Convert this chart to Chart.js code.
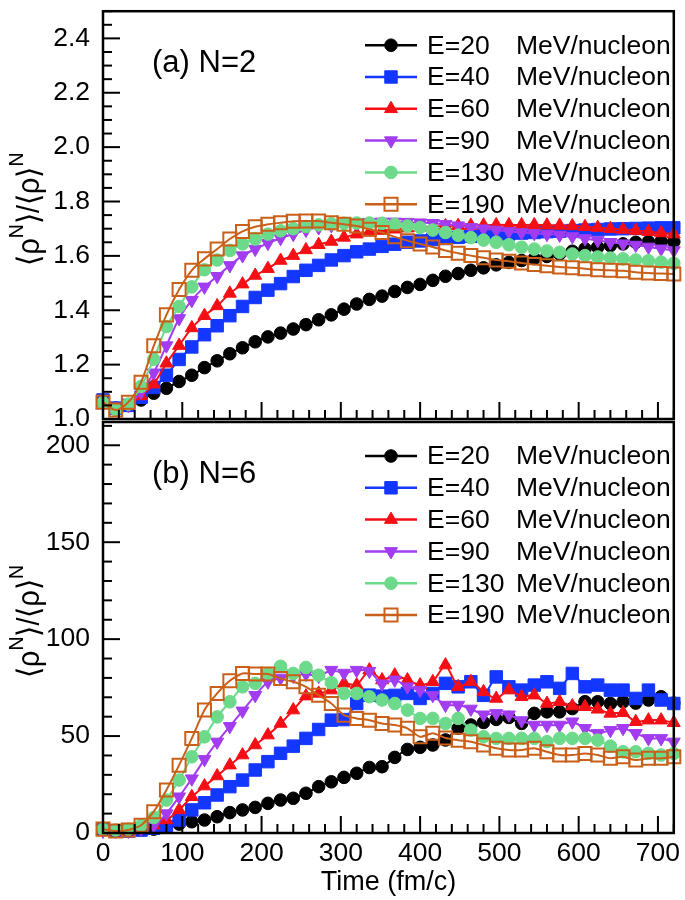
<!DOCTYPE html>
<html>
<head>
<meta charset="utf-8">
<script src="https://cdn.jsdelivr.net/npm/chart.js@4.4.0/dist/chart.umd.min.js"></script>
<style>
  body { margin: 0; background: #fff; }
  #wrap { position: relative; width: 685px; height: 900px; }
  #topChart { position: absolute; left: 0; top: 0; }
  #bottomChart { position: absolute; left: 0; top: 410px; }
</style>
</head>
<body>
<div id="wrap">
  <canvas id="bottomChart" width="685" height="490"></canvas>
  <canvas id="topChart" width="685" height="440"></canvas>
</div>
<script>
// time axis (fm/c)
const timeValues = [0, 16, 32, 48, 64, 80, 96, 112, 128, 144, 160, 176, 192, 208, 224, 240,
  256, 272, 288, 304, 320, 336, 352, 368, 384, 400, 416, 432, 448, 464, 480, 496, 512, 528,
  544, 560, 576, 592, 608, 624, 640, 656, 672, 688, 704, 720];

const energyLabels = ["E=20", "E=40", "E=60", "E=90", "E=130", "E=190"];
const unitLabel = "MeV/nucleon";

// (a) N=2
const n2E20 = [1.06, 1.04, 1.05, 1.07, 1.095, 1.113, 1.138, 1.161, 1.189, 1.214, 1.24, 1.262, 1.284, 1.302, 1.316, 1.331,
  1.347, 1.365, 1.383, 1.404, 1.423, 1.44, 1.452, 1.469, 1.484, 1.495, 1.51, 1.525, 1.535, 1.547, 1.556, 1.567, 1.576, 1.583,
  1.59, 1.598, 1.607, 1.617, 1.626, 1.632, 1.638, 1.644, 1.65, 1.652, 1.653, 1.652];
const n2E40 = [1.07, 1.04, 1.05, 1.08, 1.116, 1.161, 1.219, 1.265, 1.31, 1.343, 1.38, 1.414, 1.447, 1.474, 1.498, 1.524,
  1.547, 1.565, 1.585, 1.601, 1.615, 1.625, 1.635, 1.643, 1.65, 1.655, 1.66, 1.664, 1.668, 1.672, 1.675, 1.678, 1.681, 1.684,
  1.686, 1.689, 1.691, 1.693, 1.695, 1.697, 1.699, 1.7, 1.701, 1.702, 1.703, 1.703];
const n2E60 = [1.06, 1.035, 1.05, 1.085, 1.128, 1.205, 1.27, 1.335, 1.38, 1.416, 1.462, 1.496, 1.528, 1.553, 1.583, 1.601,
  1.622, 1.641, 1.653, 1.668, 1.68, 1.687, 1.693, 1.698, 1.702, 1.705, 1.708, 1.71, 1.711, 1.712, 1.713, 1.714, 1.714, 1.714,
  1.714, 1.713, 1.712, 1.71, 1.707, 1.704, 1.7, 1.697, 1.693, 1.689, 1.684, 1.68];
const n2E90 = [1.06, 1.035, 1.05, 1.1, 1.17, 1.27, 1.37, 1.437, 1.486, 1.525, 1.565, 1.601, 1.625, 1.647, 1.665, 1.68,
  1.695, 1.704, 1.712, 1.718, 1.722, 1.724, 1.725, 1.725, 1.724, 1.722, 1.72, 1.716, 1.711, 1.705, 1.7, 1.695, 1.69, 1.686,
  1.683, 1.68, 1.677, 1.671, 1.664, 1.657, 1.65, 1.645, 1.64, 1.633, 1.626, 1.62];
const n2E130 = [1.06, 1.035, 1.055, 1.12, 1.22, 1.34, 1.414, 1.486, 1.549, 1.585, 1.62, 1.644, 1.662, 1.68, 1.692, 1.7,
  1.708, 1.714, 1.718, 1.72, 1.721, 1.721, 1.72, 1.716, 1.71, 1.704, 1.695, 1.686, 1.676, 1.667, 1.658, 1.65, 1.641, 1.632,
  1.625, 1.618, 1.613, 1.607, 1.601, 1.596, 1.592, 1.589, 1.585, 1.582, 1.577, 1.573];
const n2E190 = [1.062, 1.033, 1.062, 1.135, 1.269, 1.383, 1.476, 1.547, 1.589, 1.625, 1.662, 1.69, 1.707, 1.716, 1.722, 1.727,
  1.728, 1.728, 1.722, 1.716, 1.71, 1.698, 1.686, 1.67, 1.656, 1.644, 1.633, 1.62, 1.61, 1.601, 1.593, 1.585, 1.58, 1.574,
  1.568, 1.564, 1.559, 1.556, 1.553, 1.549, 1.547, 1.545, 1.54, 1.537, 1.535, 1.533];

// (b) N=6
const n6E20 = [2, 1, 1, 1.5, 2, 3, 4.6, 5.8, 6.7, 8.4, 10.5, 11.9, 13.2, 15.3, 17, 17.9, 20.5, 23.9, 26.4, 28.7, 30.8, 33.8,
  34.2, 39, 43.1, 44.2, 45.4, 48, 54, 55.7, 57, 58.6, 59.6, 56.5, 61.7, 62.5, 62.5, 64.2, 67.7, 67.7, 66.8, 67.7, 67, 68.6, 70.3, 67];
const n6E40 = [2, 1, 1, 1.5, 2.5, 3.3, 6.7, 11.9, 15.6, 19.6, 23.9, 27.3, 32.5, 36.8, 41.1, 44.8, 48.8, 53.4, 58.2, 58.5, 66.8,
  71.1, 70.6, 71, 72, 69.4, 72, 77.2, 75.4, 78, 71, 80.5, 75.4, 73.7, 76.3, 78, 74.6, 82.3, 75.4, 76.3, 73.7, 73.7, 69.4, 73.7, 68.6, 66.8];
const n6E60 = [2, 1, 1, 2, 4, 6.7, 11.9, 18.7, 24.2, 29.4, 35, 40.2, 45.4, 50.5, 56.5, 63.4, 70.6, 72, 73.7, 77.2, 76.3, 84,
  78.9, 81.4, 78.9, 76.3, 78, 86.6, 75.4, 78, 72.8, 69.4, 73.7, 70.3, 71.1, 66.8, 67.7, 65.5, 65.1, 63.8, 61.7, 62, 57.4, 58.2, 58.2, 56.9];
const n6E90 = [1, 1, 1, 2, 4, 10, 18.7, 28, 38, 47, 55, 63, 71, 78, 80, 81, 82, 81, 84, 82.5, 84, 83.5, 77, 79, 75.5, 73.7,
  71, 66, 66, 64, 61, 61.7, 61, 58, 55.7, 55.7, 55.7, 57.4, 54, 51.4, 53, 54, 51.4, 48.8, 48.8, 47];
const n6E130 = [2, 1.5, 2, 4, 8, 17, 27.3, 39.3, 49.6, 59.9, 67.7, 75.4, 77.2, 82.3, 86, 82.3, 85.4, 81.4, 77.5, 72, 72, 70.3,
  68.6, 66.8, 63.4, 59.1, 59.1, 56.5, 59.1, 53.1, 49.6, 48.8, 48.8, 48.8, 48.8, 47.1, 48.8, 48.8, 48.8, 47.9, 44.8, 41.9, 41.9, 41.1, 40.2, 41];
const n6E190 = [2, 1, 1.5, 4, 11, 22.2, 35, 48.8, 63.4, 72, 78.5, 82.3, 82, 82, 79.7, 78, 75.4, 71.1, 66.8, 60.8, 59.1, 58.2,
  56.5, 55.7, 54, 49.6, 51.4, 49, 47.9, 47.1, 45.4, 43.7, 42.8, 42.8, 43.7, 41.9, 40.2, 40.2, 41, 40.2, 38.5, 39.3, 37.6, 38.5, 38.5, 39.3];

const topTicks = [1.0, 1.2, 1.4, 1.6, 1.8, 2.0, 2.2, 2.4];
const bottomTicks = [0, 50, 100, 150, 200];
const xTicks = [0, 100, 200, 300, 400, 500, 600, 700];

const FONT = '"Liberation Sans", Arial, Helvetica, sans-serif';

const styles = [
  { color: "#000000", point: "circle", radius: 6.3, rot: 0, fill: true },
  { color: "#1437ff", point: "rect", radius: 8.8, rot: 0, fill: true },
  { color: "#f50f14", point: "triangle", radius: 7.5, rot: 0, fill: true },
  { color: "#a23cf0", point: "triangle", radius: 7.5, rot: 180, fill: true },
  { color: "#6cda8a", point: "circle", radius: 6.3, rot: 0, fill: true },
  { color: "#c95f18", point: "rect", radius: 9.2, rot: 0, fill: false },
];

function makeDatasets(seriesList, tension) {
  return seriesList.map((vals, i) => {
    const s = styles[i];
    return {
      label: energyLabels[i] + " " + unitLabel,
      data: vals,
      borderColor: s.color,
      borderWidth: 2,
      backgroundColor: s.color,
      pointStyle: s.point,
      pointRotation: s.rot,
      pointRadius: s.radius,
      pointHoverRadius: s.radius,
      pointBackgroundColor: s.fill ? s.color : "rgba(255,255,255,0)",
      pointBorderColor: s.color,
      pointBorderWidth: s.fill ? 1 : 2,
      tension: tension,
      clip: false,
      order: seriesList.length - 1 - i,
    };
  });
}

function drawMarker(ctx, ds, x, y) {
  ctx.save();
  ctx.fillStyle = ds.pointBackgroundColor;
  ctx.strokeStyle = ds.pointBorderColor;
  ctx.lineWidth = ds.pointBorderWidth;
  Chart.helpers.drawPoint(ctx, {
    pointStyle: ds.pointStyle, rotation: ds.pointRotation, radius: ds.pointRadius, borderWidth: ds.pointBorderWidth,
  }, x, y);
  ctx.restore();
}

const decorPlugin = {
  id: "decor",
  afterDatasetsDraw(chart, args, opts) {
    const { ctx, chartArea: a, scales } = chart;
    ctx.save();
    ctx.strokeStyle = "#000";
    ctx.lineWidth = 2;
    const seg = (x1, y1, x2, y2) => { ctx.beginPath(); ctx.moveTo(x1, y1); ctx.lineTo(x2, y2); ctx.stroke(); };
    const isMajor = (v, m) => Math.abs(v / m - Math.round(v / m)) < 1e-6;
    // x ticks, pointing up from bottom frame
    const xs = scales.x;
    for (let n = 0; ; n++) {
      const v = xs.min + n * opts.xMinor;
      if (v > xs.max + 1e-9) break;
      const px = xs.getPixelForValue(v);
      seg(px, a.bottom, px, a.bottom - (isMajor(v, opts.xMajor) ? 17 : 9));
    }
    // y ticks, pointing right from left frame
    const ys = scales.y;
    for (let n = 0; ; n++) {
      const v = ys.min + n * opts.yMinor;
      if (v > ys.max + 1e-9) break;
      const py = ys.getPixelForValue(v);
      seg(a.left, py, a.left + (isMajor(v, opts.yMajor) ? 17 : 9), py);
    }
    ctx.lineWidth = 2.5;
    ctx.strokeRect(a.left, a.top, a.right - a.left, a.bottom - a.top);
    ctx.restore();
  },
  afterDraw(chart, args, opts) {
    const { ctx, chartArea: a } = chart;
    ctx.save();
    ctx.fillStyle = "#000";
    ctx.textBaseline = "middle";
    // panel label
    ctx.font = "31px " + FONT;
    ctx.textAlign = "left";
    ctx.fillText(opts.panel, 152, a.top + 52);
    // legend
    chart.data.datasets.forEach((ds, k) => {
      const y = a.top + 34 + k * 31.8;
      ctx.strokeStyle = ds.borderColor;
      ctx.lineWidth = 2.5;
      ctx.beginPath(); ctx.moveTo(365, y); ctx.lineTo(417, y); ctx.stroke();
      drawMarker(ctx, ds, 391, y);
      ctx.fillStyle = "#000";
      ctx.font = "26.5px " + FONT;
      ctx.fillText(energyLabels[k], 427, y + 1);
      ctx.fillText(unitLabel, 516, y + 1);
    });
    // y title with superscripts, rotated
    const big = "31px " + FONT, small = "21px " + FONT;
    const parts = [["\u27E8\u03C1", big, 0], ["N", small, -13], ["\u27E9/\u27E8\u03C1\u27E9", big, 0], ["N", small, -13]];
    let total = 0;
    parts.forEach(p => { ctx.font = p[1]; total += ctx.measureText(p[0]).width; });
    ctx.translate(30, (a.top + a.bottom) / 2 - 6);
    ctx.rotate(-Math.PI / 2);
    const k = 113 / total;
    ctx.scale(k, 1);
    let x = -total / 2;
    parts.forEach(p => { ctx.font = p[1]; ctx.fillText(p[0], x, p[2]); x += ctx.measureText(p[0]).width; });
    ctx.restore();
    if (opts.xTitle) {
      ctx.save();
      ctx.fillStyle = "#000";
      ctx.font = "27px " + FONT;
      ctx.textAlign = "center";
      ctx.textBaseline = "middle";
      ctx.fillText(opts.xTitle, (a.left + a.right) / 2, opts.xTitleY);
      ctx.restore();
    }
  },
};

function yScale(min, max, ticks, fmt) {
  return {
    type: "linear", min: min, max: max,
    grid: { display: false }, border: { display: false },
    afterBuildTicks: s => { s.ticks = ticks.map(v => ({ value: v })); },
    afterFit: s => { s.width = 103; s.paddingTop = 0; s.paddingBottom = 0; },
    ticks: { color: "#000", font: { family: FONT, size: 26.5 }, padding: 5, callback: fmt },
  };
}

Chart.defaults.animation = false;

new Chart(document.getElementById("topChart"), {
  type: "line",
  data: { labels: timeValues, datasets: makeDatasets([n2E20, n2E40, n2E60, n2E90, n2E130, n2E190], 0.3) },
  options: {
    responsive: false, animation: false,
    layout: { padding: { left: 0, right: 10, top: 3, bottom: 21 } },
    plugins: { legend: { display: false }, tooltip: { enabled: false },
      decor: { panel: "(a) N=2", xMinor: 20, xMajor: 100, yMinor: 0.05, yMajor: 0.2 } },
    scales: {
      x: { type: "linear", min: 0, max: 720, display: false },
      y: yScale(1.0, 2.5, topTicks, v => Number(v).toFixed(1)),
    },
  },
  plugins: [decorPlugin],
});

new Chart(document.getElementById("bottomChart"), {
  type: "line",
  data: { labels: timeValues, datasets: makeDatasets([n6E20, n6E40, n6E60, n6E90, n6E130, n6E190], 0.2) },
  options: {
    responsive: false, animation: false,
    layout: { padding: { left: 0, right: 10, top: 12, bottom: 0 } },
    plugins: { legend: { display: false }, tooltip: { enabled: false },
      decor: { panel: "(b) N=6", xMinor: 20, xMajor: 100, yMinor: 10, yMajor: 50, xTitle: "Time (fm/c)", xTitleY: 473 } },
    scales: {
      x: {
        type: "linear", min: 0, max: 720,
        grid: { display: false }, border: { display: false },
        afterBuildTicks: s => { s.ticks = xTicks.map(v => ({ value: v })); },
        afterFit: s => { s.height = 67; s.paddingLeft = 0; s.paddingRight = 0; },
        ticks: { color: "#000", font: { family: FONT, size: 26.5 }, padding: -3, maxRotation: 0 },
      },
      y: yScale(0, 212, bottomTicks, v => String(v)),
    },
  },
  plugins: [decorPlugin],
});
</script>
</body>
</html>
